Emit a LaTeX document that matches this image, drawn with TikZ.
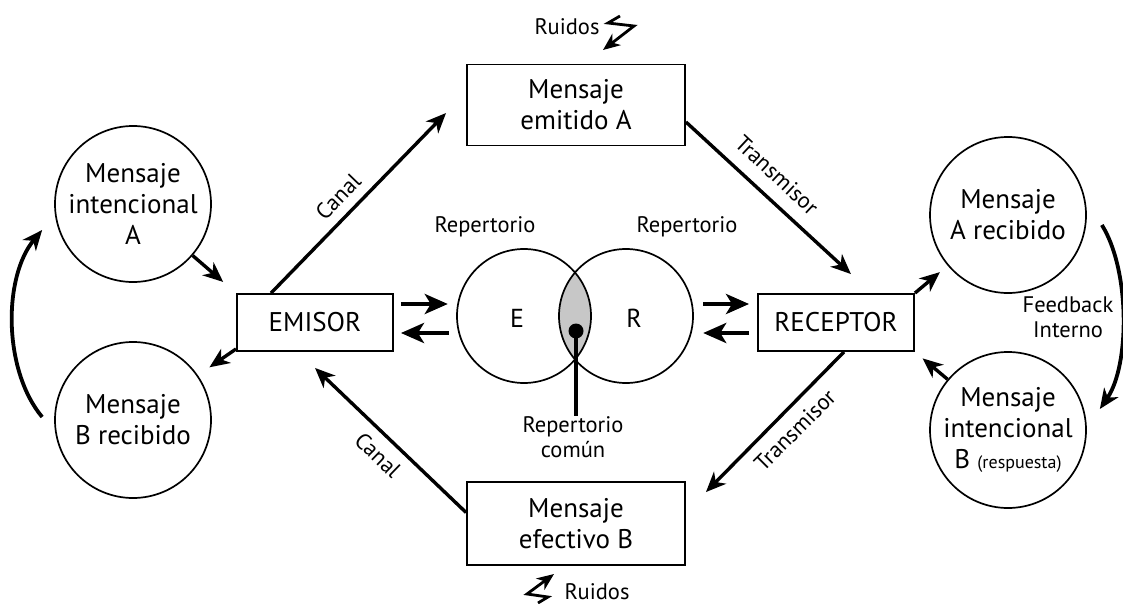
\documentclass[tikz,border=0pt]{standalone}
\usepackage{fontspec}
\setmainfont{PT Sans}
\usetikzlibrary{arrows.meta,calc}
\begin{document}
\begin{tikzpicture}[x=1pt,y=-1pt,
  bigtxt/.style={font=\fontsize{27}{31}\selectfont},
  lbl/.style={font=\fontsize{22.5}{25}\selectfont, inner sep=0pt},
  msgcircle/.style={circle, draw, line width=1.7pt, minimum size=156pt, inner sep=0pt, align=center, bigtxt},
  msgbox/.style={rectangle, draw, line width=1.9pt, minimum width=218pt, minimum height=81pt, inner sep=0pt, align=center, bigtxt},
  agent/.style={rectangle, draw, line width=1.9pt, minimum width=156pt, minimum height=57pt, inner sep=0pt, bigtxt},
  repcircle/.style={circle, minimum size=134pt, inner sep=0pt},
  arr/.style={line width=3.4pt, -{Stealth[length=20pt,width=17pt,inset=6pt]}},
  harr/.style={line width=4.8pt, -{Stealth[length=23pt,width=20pt,inset=6pt]}},
  zarr/.style={line width=2.8pt, line join=miter, -{Stealth[length=17pt,width=14pt,inset=5pt]}}
]
\useasboundingbox (0,0) rectangle (1123,604);

% message circles on both sides
\node[msgcircle] (cA) at (133,204) {Mensaje\\intencional\\A};
\node[msgcircle] (cB) at (133,420) {Mensaje\\B recibido};
\node[msgcircle] (rA) at (1008,215) {Mensaje\\A recibido};
\node[msgcircle] (rB) at (1008,430) {Mensaje\\intencional\\B {\fontsize{18}{20}\selectfont(respuesta)}};

% sender, receiver and the two messages
\node[agent] (emisor) at (315,322.5) {EMISOR};
\node[agent] (receptor) at (836,322.5) {RECEPTOR};
\node[msgbox] (msgA) at (576,105) {Mensaje\\emitido A};
\node[msgbox, minimum height=83pt] (msgB) at (576,523.5) {Mensaje\\efectivo B};

% repertoires
\node[repcircle] (vE) at (524,316) {};
\node[repcircle] (vR) at (626,316) {};
\begin{scope}
  \clip (vE.center) circle (67pt);
  \fill[black!22] (vR.center) circle (67pt);
\end{scope}
\draw[line width=1.7pt] (vE.center) circle (67pt);
\draw[line width=1.7pt] (vR.center) circle (67pt);
\node[font=\fontsize{26}{30}\selectfont] (eLbl) at (517,318) {E};
\node[font=\fontsize{26}{30}\selectfont] (rLbl) at (634,318) {R};
\node[lbl] (repE) at (485,227) {Repertorio};
\node[lbl] (repR) at (687,227) {Repertorio};
\node[lbl, align=center] (comun) at (573,437) {Repertorio\\común};
\node[circle, fill, minimum size=15pt, inner sep=0pt] (dot) at (576,331) {};
\draw[line width=3.4pt] (dot.center) -- (dot |- comun.north);

% channel and transmitter arrows
\draw[arr] ($(emisor.north west)+(35,0)$) -- ($(msgA.west)+(-20,8)$);
\draw[arr] ($(msgA.east)+(0,17)$) -- ($(receptor.north east)+(-64,-19)$);
\draw[arr] ($(receptor.south east)+(-71,0)$) -- ($(msgB.north east)+(20,11)$);
\draw[arr] ($(msgB.west)+(0,-11)$) -- ($(emisor.south)+(0,16)$);
\node[lbl, rotate=46] (canalT) at (338,197) {Canal};
\node[lbl, rotate=-43] (transT) at (777,175) {Transmisor};
\node[lbl, rotate=45] (transB) at (795,430) {Transmisor};
\node[lbl, rotate=-44] (canalB) at (378,455) {Canal};

% exchanges with the repertoires
\draw[harr] ($(emisor.east)+(7,-18.5)$) -- ($(vE.west)+(-9,-12)$);
\draw[harr] ($(vE.west)+(-8,17)$) -- ($(emisor.east)+(7,10.5)$);
\draw[harr] ($(vR.east)+(10,-12)$) -- ($(receptor.west)+(-8,-18.5)$);
\draw[harr] ($(receptor.west)+(-8,10.5)$) -- ($(vR.east)+(10,17)$);

% links with the side circles
\draw[arr, shorten >=17pt] (cA) -- (emisor.north west);
\draw[arr, shorten >=14pt] ([yshift=3pt]emisor.south west) -- (cB);
\draw[arr, shorten >=10pt] (receptor.north east) -- (rA);
\draw[arr, shorten >=10pt] (rB) -- (receptor.south east);

% feedback loops
\draw[arr, line width=3.8pt] ($(cB.west)+(-12,-3)$) .. controls (3,370) and (3,277) .. ($(cA.west)+(-12,26)$);
\draw[arr, line width=3.8pt] ($(rA.east)+(15,10)$) .. controls (1130,270) and (1130,365) .. ($(rB.east)+(13,-21)$);
\node[lbl, align=center] (fb) at (1068,317) {Feedback\\Interno};

% noise
\node[lbl] (ruidosT) at (567,27) {Ruidos};
\node[lbl] (ruidosB) at (597,592) {Ruidos};
\draw[zarr] (620,16) -- (608,23) -- (634,26) -- (603,50);
\draw[zarr] (538,603) -- (548,597) -- (527,594) -- (554,574);
\end{tikzpicture}
\end{document}
